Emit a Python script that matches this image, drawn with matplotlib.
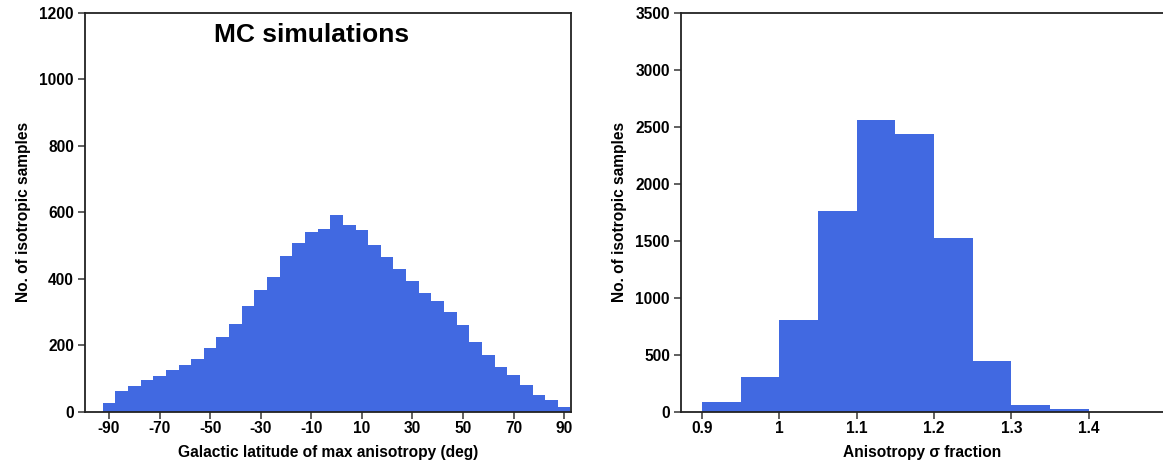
import numpy as np
import matplotlib
matplotlib.use("Agg")
import matplotlib.pyplot as plt

plt.rcParams['font.family'] = ['Liberation Sans', 'DejaVu Sans']
plt.rcParams['font.weight'] = 'bold'
plt.rcParams['axes.unicode_minus'] = False

# Galactic latitude of the maximum anisotropy, 5-degree bins
lat_edges = np.arange(-92.5, 92.5 + 0.1, 5.0)
lat_counts = [25, 61, 76, 94, 106, 124, 140, 158, 191, 224, 263, 317, 366,
              405, 468, 508, 541, 551, 593, 563, 548, 502, 466, 430, 394,
              357, 333, 300, 261, 209, 170, 134, 110, 80, 49, 34, 13]
lat_ticks = [-90, -70, -50, -30, -10, 10, 30, 50, 70, 90]

# Anisotropy sigma fraction, 0.05-wide bins
sig_edges = np.round(np.arange(0.9, 1.4 + 0.001, 0.05), 2)
sig_counts = [85, 305, 805, 1763, 2563, 2440, 1526, 446, 59, 24]
sig_ticks = [0.9, 1.0, 1.1, 1.2, 1.3, 1.4]
sig_ticklabels = ['0.9', '1', '1.1', '1.2', '1.3', '1.4']

BAR = '#4169E1'
W, H = 1163, 461
fig = plt.figure(figsize=(W / 100, H / 100), dpi=100)


def px_axes(x0, x1, y0, y1):
    return fig.add_axes([x0 / W, 1 - y1 / H, (x1 - x0) / W, (y1 - y0) / H])


def style(ax):
    for s in ax.spines.values():
        s.set_linewidth(1.3)
        s.set_color('#222222')
    ax.tick_params(direction='out', length=5, width=1.2, color='#444444',
                   labelsize=11.2, pad=3)
    ax.tick_params(axis='x', pad=2)
    for lab in ax.get_xticklabels() + ax.get_yticklabels():
        lab.set_fontweight('bold')


# Left panel: latitude histogram
ax1 = px_axes(85, 570.5, 13, 411.5)
ax1.bar(lat_edges[:-1], lat_counts, width=np.diff(lat_edges), align='edge',
        color=BAR, linewidth=0)
ax1.set_xlim(-99.5, 92.5)
ax1.set_ylim(0, 1200)
ax1.set_xticks(lat_ticks)
ax1.set_yticks(np.arange(0, 1201, 200))
style(ax1)
ax1.set_xlabel('Galactic latitude of max anisotropy (deg)', fontsize=11.2,
               fontweight='bold', labelpad=6)
ax1.set_ylabel('No. of isotropic samples', fontsize=11.2, fontweight='bold',
               labelpad=6)
ax1.text(-10, 1113, 'MC simulations', ha='center', va='baseline',
         fontsize=19, fontweight='bold')

# Right panel: sigma fraction histogram
ax2 = px_axes(681, 1163, 13, 411.5)
ax2.bar(sig_edges[:-1], sig_counts, width=np.diff(sig_edges), align='edge',
        color=BAR, linewidth=0)
ax2.set_xlim(0.873, 1.496)
ax2.set_ylim(0, 3500)
ax2.set_xticks(sig_ticks)
ax2.set_xticklabels(sig_ticklabels)
ax2.set_yticks(np.arange(0, 3501, 500))
ax2.spines['right'].set_visible(False)
style(ax2)
ax2.set_xlabel('Anisotropy σ fraction', fontsize=11.2, fontweight='bold',
               labelpad=6)
ax2.set_ylabel('No. of isotropic samples', fontsize=11.2, fontweight='bold',
               labelpad=6)

fig.savefig('out.png', dpi=100)
